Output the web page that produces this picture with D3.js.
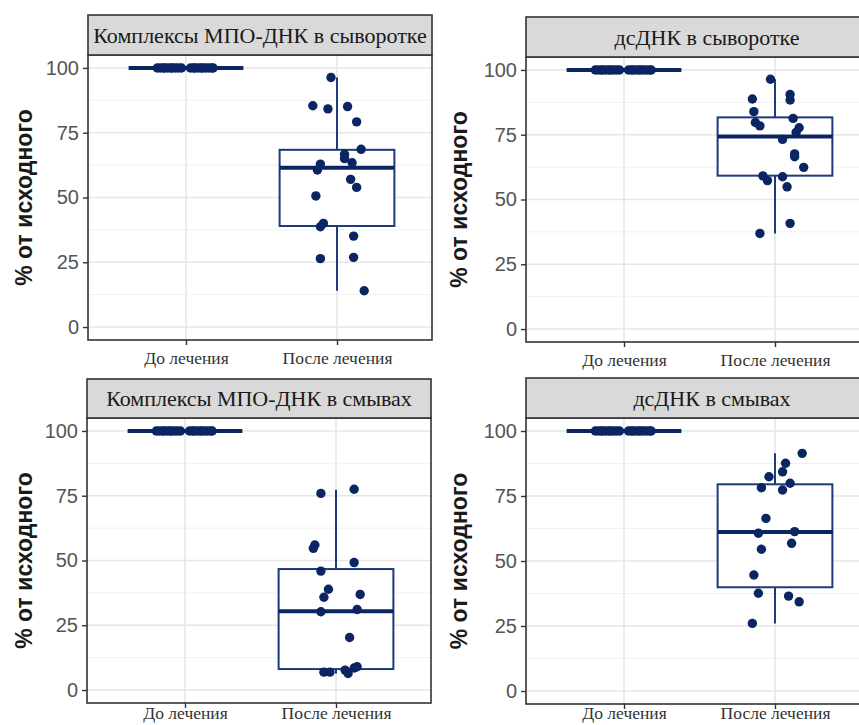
<!DOCTYPE html>
<html>
<head>
<meta charset="utf-8">
<script src="https://cdn.jsdelivr.net/npm/d3@7"></script>
<style>
  body { margin: 0; background: #fff; }
  .tick-label { font-family: "Liberation Sans", Arial, sans-serif; font-size: 20px; fill: #555; }
  .cat-label { font-family: "Liberation Serif", "Times New Roman", serif; font-size: 17.5px; fill: #333; }
  .strip-text { font-family: "Liberation Serif", "Times New Roman", serif; font-size: 22px; fill: #1a1a1a; }
  .y-title { font-family: "Liberation Sans", Arial, sans-serif; font-size: 23px; font-weight: bold; fill: #1a1a1a; }
</style>
</head>
<body>
<script>
// values
const categories = ["До лечения", "После лечения"];
const panelTitles = [
  "Комплексы МПО-ДНК в сыворотке",
  "дсДНК в сыворотке",
  "Комплексы МПО-ДНК в смывах",
  "дсДНК в смывах",
];
const yTicks = [0, 25, 50, 75, 100];
const yMinorTicks = [12.5, 37.5, 62.5, 87.5];
const yTitle = "% от исходного";

// before treatment: every patient is 100 %
const beforeValues = [100, 100, 100, 100, 100, 100, 100, 100, 100, 100,
                      100, 100, 100, 100, 100, 100, 100, 100, 100, 100];
const beforeJitter = [-0.19, -0.17, -0.15, -0.14, -0.12, -0.1, -0.09, -0.07, -0.05, -0.03,
                      0.03, 0.05, 0.06, 0.08, 0.1, 0.11, 0.13, 0.15, 0.17, 0.18];
// box stats: [lower whisker, Q1, median, Q3, upper whisker]
const beforeBox = [100, 100, 100, 100, 100];

const serumMpoAfter = [96.3, 85.4, 84.2, 85.1, 79.2, 68.6, 66.7, 65.0, 63.4, 62.9,
                       60.6, 57.0, 53.9, 50.6, 40.0, 38.7, 35.1, 26.4, 26.9, 14.0];
const serumMpoJitter = [-0.04, -0.16, -0.06, 0.07, 0.13, 0.16, 0.05, 0.05, 0.1, -0.11,
                        -0.13, 0.09, 0.13, -0.14, -0.09, -0.11, 0.11, -0.11, 0.11, 0.18];
const serumMpoBox = [14.0, 39.0, 61.5, 68.4, 96.3];

const serumDnaAfter = [96.4, 88.8, 90.5, 88.4, 83.9, 79.7, 78.4, 81.3, 77.7, 75.9,
                       73.2, 67.6, 66.5, 62.4, 59.1, 57.3, 58.8, 54.9, 40.8, 36.9];
const serumDnaJitter = [-0.03, -0.15, 0.1, 0.1, -0.14, -0.13, -0.1, 0.12, 0.16, 0.14,
                        0.05, 0.13, 0.13, 0.19, -0.08, -0.05, 0.05, 0.08, 0.1, -0.1];
const serumDnaBox = [36.9, 59.2, 74.3, 81.7, 96.4];

const washMpoAfter = [75.9, 77.5, 54.7, 56.0, 49.2, 45.9, 38.9, 35.8, 36.9, 30.2,
                      31.1, 20.3, 6.9, 6.9, 7.7, 6.4, 8.5, 9.0];
const washMpoJitter = [-0.1, 0.12, -0.15, -0.14, 0.12, -0.1, -0.05, -0.08, 0.16, -0.1,
                       0.14, 0.09, -0.08, -0.04, 0.06, 0.08, 0.12, 0.14];
const washMpoBox = [6.4, 8.1, 30.4, 46.7, 77.3];

const washDnaAfter = [91.4, 87.6, 84.3, 82.4, 79.9, 78.2, 77.3, 66.4, 60.7, 61.3,
                      56.8, 54.5, 44.6, 37.6, 36.5, 34.3, 26.0];
const washDnaJitter = [0.18, 0.07, 0.05, -0.04, 0.1, -0.09, 0.05, -0.06, -0.11, 0.13,
                       0.11, -0.09, -0.14, -0.11, 0.09, 0.16, -0.15];
const washDnaBox = [26.0, 39.9, 61.2, 79.5, 91.4];

const afterValues = [serumMpoAfter, serumDnaAfter, washMpoAfter, washDnaAfter];
const afterJitter = [serumMpoJitter, serumDnaJitter, washMpoJitter, washDnaJitter];
const afterBox = [serumMpoBox, serumDnaBox, washMpoBox, washDnaBox];

document.addEventListener("DOMContentLoaded", () => {
  const canvass = { width: 859, height: 725 };
  const pointColor = "#0b2462";
  const boxColor = "#1b3b7b";
  const frameColor = "#333333";
  const boxWidth = 0.76;

  // frame layout of each facet (the right column is cut by the picture edge)
  const layout = [
    { left: 88, stripTop: 15, top: 55, bottom: 340, width: 344, titleX: 24, labelPad: 7 },
    { left: 526, stripTop: 17, top: 57, bottom: 342, width: 362, titleX: 459, labelPad: 7 },
    { left: 87, stripTop: 379, top: 418, bottom: 703, width: 344, titleX: 24, labelPad: -1 },
    { left: 526, stripTop: 378, top: 418, bottom: 704, width: 372, titleX: 459, labelPad: -2 },
  ];

  const svg = d3
    .select("body")
    .append("svg")
    .attr("width", canvass.width)
    .attr("height", canvass.height);

  const drawBox = (g, x, y, pos, stats) => {
    const [lo, q1, med, q3, hi] = stats;
    g.append("line")
      .attr("x1", x(pos)).attr("x2", x(pos))
      .attr("y1", y(hi)).attr("y2", y(q3))
      .attr("stroke", boxColor).attr("stroke-width", 2);
    g.append("line")
      .attr("x1", x(pos)).attr("x2", x(pos))
      .attr("y1", y(q1)).attr("y2", y(lo))
      .attr("stroke", boxColor).attr("stroke-width", 2);
    g.append("rect")
      .attr("x", x(pos - boxWidth / 2))
      .attr("width", x(pos + boxWidth / 2) - x(pos - boxWidth / 2))
      .attr("y", y(q3))
      .attr("height", y(q1) - y(q3))
      .attr("fill", "#fff")
      .attr("stroke", boxColor)
      .attr("stroke-width", 2);
    g.append("line")
      .attr("x1", x(pos - boxWidth / 2)).attr("x2", x(pos + boxWidth / 2))
      .attr("y1", y(med)).attr("y2", y(med))
      .attr("stroke", pointColor).attr("stroke-width", 4);
  };

  const drawPoints = (g, x, y, pos, values, jitter) => {
    g.selectAll(null)
      .data(values)
      .enter()
      .append("circle")
      .attr("cx", (d, i) => x(pos + jitter[i]))
      .attr("cy", (d) => y(d))
      .attr("r", 4.7)
      .attr("fill", pointColor);
  };

  const drawPanel = (p, i) => {
    const x = d3
      .scaleLinear()
      .domain([1, 2])
      .range([p.left + 98, p.left + 249]);
    const y = d3.scaleLinear().domain([-5, 105]).range([p.bottom, p.top]);
    const right = p.left + p.width;
    const g = svg.append("g");

    // grid
    g.selectAll(null)
      .data(yMinorTicks)
      .enter()
      .append("line")
      .attr("x1", p.left).attr("x2", right)
      .attr("y1", (d) => y(d)).attr("y2", (d) => y(d))
      .attr("stroke", "#f0f0f0").attr("stroke-width", 1);
    g.selectAll(null)
      .data(yTicks)
      .enter()
      .append("line")
      .attr("x1", p.left).attr("x2", right)
      .attr("y1", (d) => y(d)).attr("y2", (d) => y(d))
      .attr("stroke", "#e6e6e6").attr("stroke-width", 1.6);
    g.selectAll(null)
      .data([1, 2])
      .enter()
      .append("line")
      .attr("x1", (d) => x(d)).attr("x2", (d) => x(d))
      .attr("y1", p.top).attr("y2", p.bottom)
      .attr("stroke", "#e6e6e6").attr("stroke-width", 1.6);

    // boxes and jittered points
    drawBox(g, x, y, 1, beforeBox);
    drawBox(g, x, y, 2, afterBox[i]);
    drawPoints(g, x, y, 1, beforeValues, beforeJitter);
    drawPoints(g, x, y, 2, afterValues[i], afterJitter[i]);

    // frame and strip
    g.append("rect")
      .attr("x", p.left).attr("y", p.top)
      .attr("width", p.width).attr("height", p.bottom - p.top)
      .attr("fill", "none").attr("stroke", frameColor).attr("stroke-width", 1.6);
    g.append("rect")
      .attr("x", p.left).attr("y", p.stripTop)
      .attr("width", p.width).attr("height", p.top - p.stripTop)
      .attr("fill", "#d9d9d9").attr("stroke", frameColor).attr("stroke-width", 1.6);
    g.append("text")
      .attr("class", "strip-text")
      .attr("x", p.left + p.width / 2)
      .attr("y", (p.stripTop + p.top) / 2 + 7.5)
      .attr("text-anchor", "middle")
      .text(panelTitles[i]);

    // axes
    const yAxis = g
      .append("g")
      .attr("transform", `translate(${p.left},0)`)
      .call(d3.axisLeft(y).tickValues(yTicks).tickSize(5).tickPadding(4));
    yAxis.select(".domain").remove();
    yAxis.selectAll("line").attr("stroke", frameColor).attr("stroke-width", 1.4);
    yAxis.selectAll("text").attr("class", "tick-label").attr("font-size", null)
      .attr("font-family", null).attr("fill", null);

    const xAxis = g
      .append("g")
      .attr("transform", `translate(0,${p.bottom})`)
      .call(
        d3.axisBottom(x).tickValues([1, 2]).tickSize(5).tickPadding(p.labelPad)
          .tickFormat((d) => categories[d - 1])
      );
    xAxis.select(".domain").remove();
    xAxis.selectAll("line").attr("stroke", frameColor).attr("stroke-width", 1.4);
    xAxis.selectAll("text").attr("class", "cat-label").attr("font-size", null)
      .attr("font-family", null).attr("fill", null);

    g.append("text")
      .attr("class", "y-title")
      .attr("transform", `translate(${p.titleX},${(p.top + p.bottom) / 2}) rotate(-90)`)
      .attr("dy", "0.35em")
      .attr("text-anchor", "middle")
      .text(yTitle);
  };

  layout.forEach(drawPanel);
});
</script>
</body>
</html>
